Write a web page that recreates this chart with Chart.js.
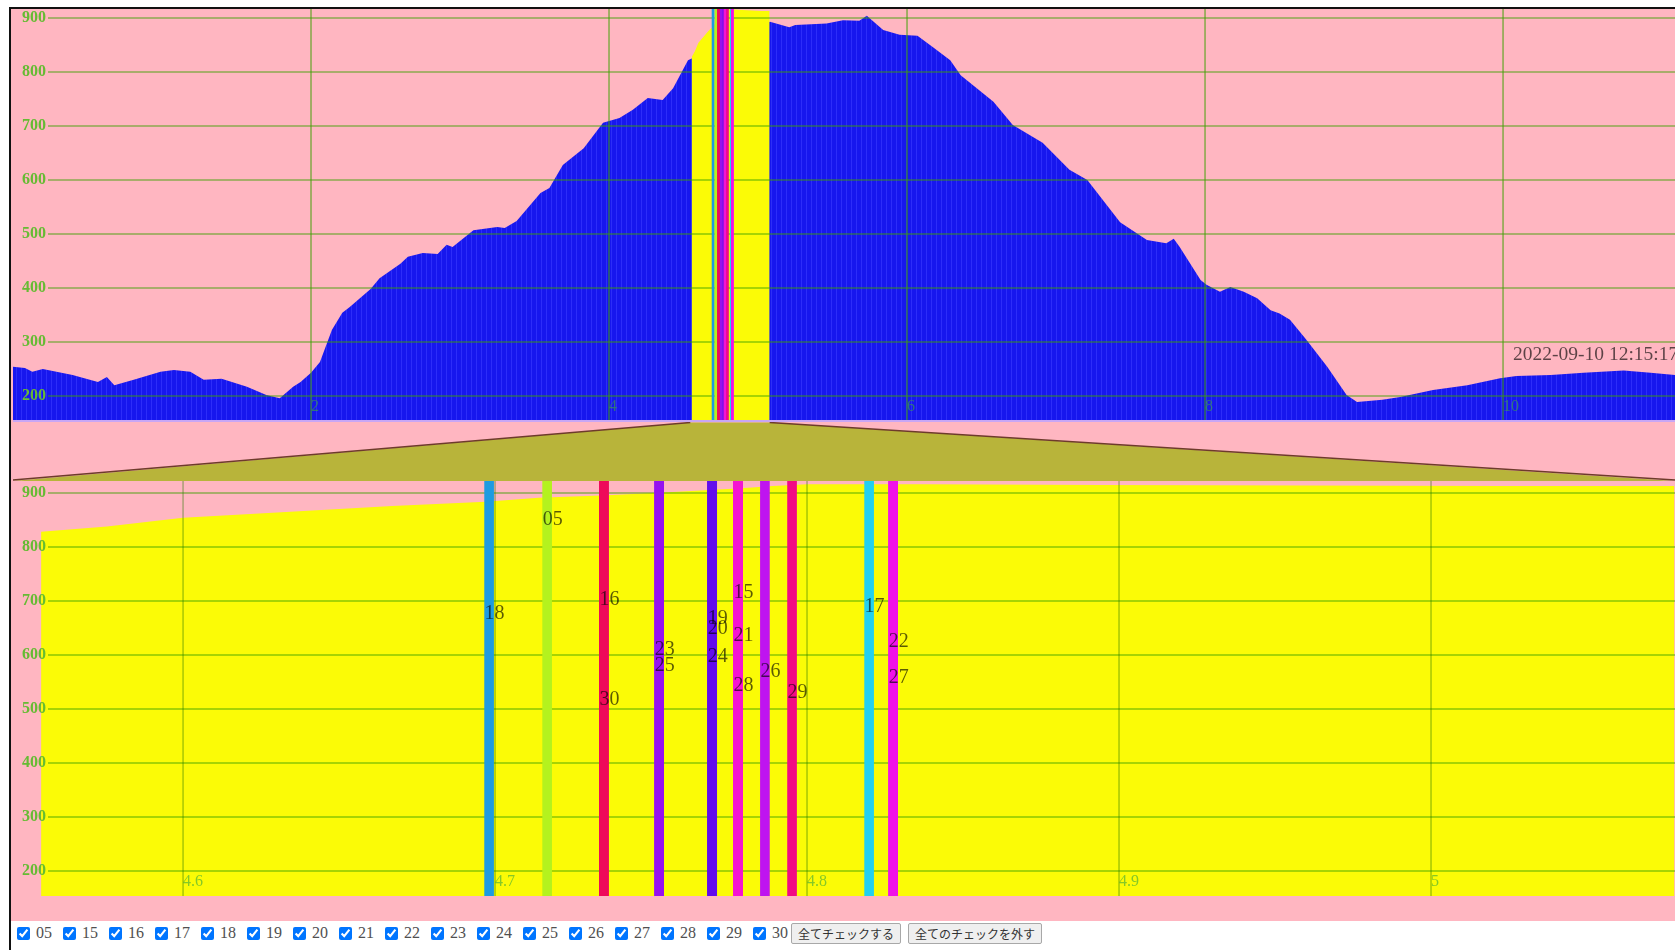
<!DOCTYPE html>
<html><head><meta charset="utf-8">
<script src="https://cdn.jsdelivr.net/npm/chart.js@4.4.1/dist/chart.umd.min.js"></script>
<style>
html,body{margin:0;padding:0;background:#fff;overflow:hidden;width:1675px;height:950px;}
#frame{position:absolute;left:9px;top:7px;width:1700px;height:960px;border-left:2px solid #111;border-top:2px solid #111;}
#pink{position:absolute;left:11px;top:9px;width:1664px;height:912px;background:#ffb6c1;}
canvas{position:absolute;left:11px;}
#topc{top:9px;}
#botc{top:481px;}
#ctrl{position:absolute;left:13px;top:921px;height:24px;display:flex;align-items:center;font-family:'Liberation Serif',serif;font-size:16px;color:#505050;white-space:nowrap;}
#ctrl label{display:inline-flex;align-items:center;margin-right:7px;}
#ctrl label:last-of-type{margin-right:3px;}
#ctrl input{margin:0 6px 0 4px;width:13px;height:13px;}
#ctrl button{font-family:'Noto Sans CJK JP',sans-serif;font-size:12px;padding:0 6px;height:21px;margin-right:7px;background:#efefef;border:1px solid #a8a8a8;border-radius:2px;color:#333;line-height:19px;}
</style>
</head><body>
<div id="frame"></div>
<div id="pink"></div>
<canvas id="topc" width="1664" height="472"></canvas>
<canvas id="botc" width="1664" height="438"></canvas>
<div id="ctrl"></div>
<script>
// ---------------- data ----------------
const profileX = [0.00,0.08,0.13,0.20,0.40,0.57,0.63,0.68,0.81,0.99,1.08,1.19,1.28,1.40,1.57,1.70,1.79,1.88,1.93,2.00,2.06,2.14,2.21,2.26,2.40,2.46,2.60,2.65,2.75,2.85,2.91,2.95,3.09,3.25,3.30,3.38,3.54,3.60,3.69,3.83,3.96,4.07,4.16,4.26,4.36,4.43,4.53,
  5.08,5.21,5.25,5.46,5.57,5.68,5.73,5.84,5.95,6.07,6.17,6.29,6.36,6.58,6.71,6.80,6.91,7.09,7.21,7.43,7.61,7.74,7.79,7.83,7.97,8.01,8.10,8.17,8.26,8.35,8.44,8.50,8.57,8.68,8.82,8.95,9.02,9.19,9.31,9.53,9.76,9.98,10.09,10.32,10.54,10.81,10.99,11.154];
const profileY = [254,252,245,250,239,226,235,220,230,245,248,245,230,232,217,202,196,217,226,243,263,322,354,365,398,418,445,458,465,463,480,476,507,513,511,524,576,585,628,659,706,715,730,752,748,770,822,
  893,883,887,890,896,895,904,878,869,867,847,822,794,745,702,687,669,619,600,522,489,483,491,476,415,406,393,402,393,381,359,353,341,304,254,202,189,193,198,211,220,233,237,239,243,247,243,239];

// detail (selected range) values
const zoomX = [4.5545,4.5756,4.600,4.633,4.667,4.697,4.714,4.736,4.757,4.779,4.789,4.800,4.836,4.894,4.958,5.022,5.078];
const zoomY = [828,838,854,865,876,884,891,896,902,909,913,916,916,915,914,913,913];

const selection = [4.5455, 5.0782];
const topXRange = [0, 11.154];
const topYRange = [153.7, 916.7];
const botYRange = [153.7, 922.2];
const topXStep = 2, botXStep = 0.1, yStep = 100;

const seriesIds    = ['05','15','16','17','18','19','20','21','22','23','24','25','26','27','28','29','30'];
const seriesX      = [4.7167,4.7779,4.7349,4.8199,4.6981,4.7696,4.7696,4.7779,4.8276,4.7526,4.7696,4.7526,4.7865,4.8276,4.7779,4.7952,4.7349];
const seriesY      = [850,715,702,689,677,667,648,636,624,609,596,581,569,557,543,530,517];
const seriesColors = ['#b4f21e','#f514d2','#ee0a5a','#22d0f0','#1e9be1','#620ced','#620ced','#f514d2','#f012e8','#9612f0','#620ced','#9612f0','#bf14f0','#f012e8','#f514d2','#f20a84','#ee0a5a'];

const stampText = '2022-09-10 12:15:17';
const stampAt = [10.067, 276];

const buttonLabels = ['全てチェックする','全てのチェックを外す'];

// ---------------- controls ----------------
const ctrl = document.getElementById('ctrl');
seriesIds.forEach(id => {
  const l = document.createElement('label');
  const c = document.createElement('input'); c.type = 'checkbox'; c.checked = true;
  l.appendChild(c); l.appendChild(document.createTextNode(id));
  ctrl.appendChild(l);
});
buttonLabels.forEach(t => { const b = document.createElement('button'); b.textContent = t; ctrl.appendChild(b); });

// ---------------- styles ----------------
Chart.defaults.font.family = "'Liberation Serif', serif";
const PINKGRID = 'rgba(60,160,0,0.6)';
const XLABEL = 'rgba(60,170,60,0.62)';
const YLABEL = '#66bb33';
const TEXTC = 'rgba(0,0,0,0.64)';

function bluePattern() {
  const c = document.createElement('canvas'); c.width = 5; c.height = 1;
  const g = c.getContext('2d');
  g.fillStyle = '#1717ee'; g.fillRect(0, 0, 5, 1);
  g.fillStyle = '#2d2df9'; g.fillRect(0, 0, 1, 1);
  return g.createPattern(c, 'repeat');
}

const zeroFitX = s => { s.height = 0; s.paddingLeft = 0; s.paddingRight = 0; s.paddingTop = 0; s.paddingBottom = 0; };
const zeroFitY = s => { s.width = 0; s.paddingLeft = 0; s.paddingRight = 0; s.paddingTop = 0; s.paddingBottom = 0; };

// grid drawn between area fills and marker bars; horizontal lines start after the tick labels
const midGrid = {
  id: 'midGrid',
  beforeDatasetDraw(chart, args, o) {
    if (args.index !== o.index) return;
    const {ctx, chartArea: a, scales: {x, y}} = chart;
    ctx.save();
    ctx.beginPath(); ctx.rect(a.left, a.top, a.right - a.left, a.bottom - a.top); ctx.clip();
    ctx.strokeStyle = o.hColor; ctx.lineWidth = o.hWidth;
    y.ticks.forEach(t => {
      const p = y.getPixelForValue(t.value);
      ctx.beginPath(); ctx.moveTo(a.left + o.hStart, p); ctx.lineTo(a.right, p); ctx.stroke();
    });
    ctx.strokeStyle = o.vColor; ctx.lineWidth = o.vWidth;
    x.ticks.forEach(t => {
      if (t.value <= x.min + 1e-9) return;
      const p = x.getPixelForValue(t.value);
      ctx.beginPath(); ctx.moveTo(p, a.top); ctx.lineTo(p, a.bottom); ctx.stroke();
    });
    ctx.restore();
  }
};

const connector = {
  id: 'connector',
  afterDraw(chart) {
    const {ctx, chartArea: a, scales: {x, y}} = chart;
    const x0 = x.getPixelForValue(selection[0]), x1 = x.getPixelForValue(selection[1]);
    const yTop = a.bottom + 1.5, yBot = chart.height;
    ctx.save();
    ctx.fillStyle = '#b8b43a';
    ctx.beginPath(); ctx.moveTo(x0, yTop); ctx.lineTo(x1, yTop); ctx.lineTo(a.right, yBot); ctx.lineTo(a.left, yBot); ctx.closePath(); ctx.fill();
    ctx.strokeStyle = '#6e3b2b'; ctx.lineWidth = 1.5;
    ctx.beginPath(); ctx.moveTo(x0, yTop); ctx.lineTo(a.left, yBot - 1); ctx.moveTo(x1, yTop); ctx.lineTo(a.right, yBot - 1); ctx.stroke();
    ctx.strokeStyle = '#c8a6f4'; ctx.lineWidth = 2;
    ctx.beginPath(); ctx.moveTo(a.left, a.bottom); ctx.lineTo(a.right, a.bottom); ctx.stroke();
    ctx.fillStyle = TEXTC; ctx.font = "19.5px 'Liberation Serif', serif";
    ctx.textAlign = 'left'; ctx.textBaseline = 'middle';
    ctx.fillText(stampText, x.getPixelForValue(stampAt[0]), y.getPixelForValue(stampAt[1]));
    ctx.restore();
  }
};

const idLabels = {
  id: 'idLabels',
  afterDraw(chart) {
    const {ctx, scales: {x, y}} = chart;
    ctx.save();
    ctx.fillStyle = TEXTC; ctx.font = "20px 'Liberation Serif', serif";
    ctx.textAlign = 'left'; ctx.textBaseline = 'middle';
    seriesIds.forEach((id, i) => ctx.fillText(id, x.getPixelForValue(seriesX[i]) - 4.5, y.getPixelForValue(seriesY[i])));
    ctx.restore();
  }
};

function axes(xr, xs, yr, fmt, xFontSize) {
  return {
    x: {type: 'linear', min: xr[0], max: xr[1], offset: false,
        grid: {display: false, drawTicks: false}, border: {display: false},
        ticks: {stepSize: xs, includeBounds: false, mirror: true, padding: 5, align: 'start', maxRotation: 0, minRotation: 0,
                autoSkip: false, color: XLABEL, font: {size: xFontSize}, z: 1, callback: fmt},
        afterFit: zeroFitX},
    y: {type: 'linear', min: yr[0], max: yr[1],
        grid: {display: false, drawTicks: false}, border: {display: false},
        ticks: {stepSize: yStep, includeBounds: false, mirror: true, padding: 9, color: YLABEL, font: {size: 16, weight: 'bold'}, z: 1},
        afterFit: zeroFitY}
  };
}

const common = {responsive: false, animation: false, events: [],
  plugins: {legend: {display: false}, tooltip: {enabled: false}}};

// ---------------- top (overview) chart ----------------
new Chart(document.getElementById('topc'), {
  type: 'line',
  data: {datasets: [
    {type: 'line', data: profileX.map((v, i) => ({x: v, y: profileY[i]})), backgroundColor: bluePattern(),
     borderWidth: 0, pointRadius: 0, fill: 'start', tension: 0, order: 3},
    {type: 'line', data: zoomX.map((v, i) => ({x: v, y: zoomY[i]})), backgroundColor: '#fbfb06',
     borderWidth: 0, pointRadius: 0, fill: 'start', tension: 0, order: 2},
    {type: 'bar', data: seriesX.map(v => ({x: v, y: topYRange})), backgroundColor: seriesColors,
     borderWidth: 0, barThickness: 2, order: 1}
  ]},
  options: Object.assign({}, common, {
    layout: {padding: {left: 2, top: 0, right: 0, bottom: 60}, autoPadding: false},
    plugins: Object.assign({}, common.plugins, {midGrid: {index: 2, hStart: 35, hColor: PINKGRID, hWidth: 1.6, vColor: PINKGRID, vWidth: 1.6}}),
    scales: axes(topXRange, topXStep, topYRange, v => (v === 0 ? '' : String(v)), 16)
  }),
  plugins: [midGrid, connector]
});

// ---------------- bottom (detail) chart ----------------
new Chart(document.getElementById('botc'), {
  type: 'line',
  data: {datasets: [
    {type: 'line', data: zoomX.map((v, i) => ({x: v, y: zoomY[i]})), backgroundColor: '#fbfb06',
     borderWidth: 0, pointRadius: 0, fill: 'start', tension: 0, order: 2},
    {type: 'bar', data: seriesX.map(v => ({x: v, y: botYRange})), backgroundColor: seriesColors,
     borderWidth: 0, barThickness: 9, order: 1}
  ]},
  options: Object.assign({}, common, {
    layout: {padding: {left: 2, top: 0, right: 0, bottom: 23}, autoPadding: false},
    plugins: Object.assign({}, common.plugins, {midGrid: {index: 1, hStart: 35, hColor: PINKGRID, hWidth: 1.6, vColor: 'rgba(40,120,0,0.6)', vWidth: 1}}),
    scales: axes(selection, botXStep, botYRange, v => String(Math.round(v * 1000) / 1000), 16)
  }),
  plugins: [midGrid, idLabels]
});
</script>
</body></html>
